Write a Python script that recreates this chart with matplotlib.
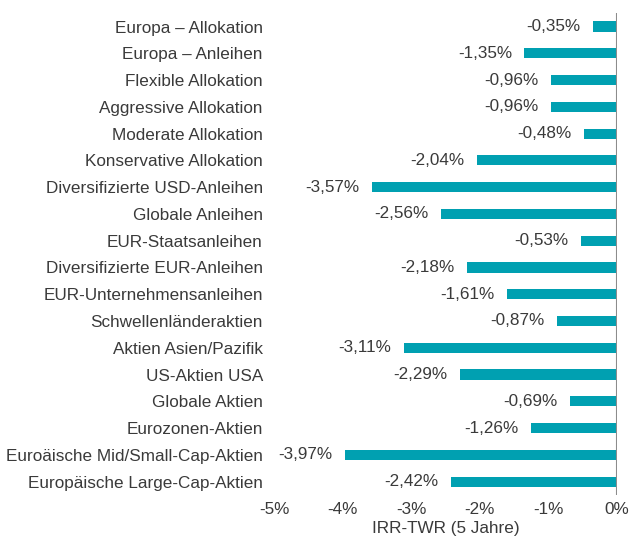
import matplotlib.pyplot as plt

plt.rcParams['font.family'] = ['Liberation Sans', 'DejaVu Sans']

# Kategorien (von oben nach unten) und Werte in %
categories = [
    "Europa – Allokation",
    "Europa – Anleihen",
    "Flexible Allokation",
    "Aggressive Allokation",
    "Moderate Allokation",
    "Konservative Allokation",
    "Diversifizierte USD-Anleihen",
    "Globale Anleihen",
    "EUR-Staatsanleihen",
    "Diversifizierte EUR-Anleihen",
    "EUR-Unternehmensanleihen",
    "Schwellenländeraktien",
    "Aktien Asien/Pazifik",
    "US-Aktien USA",
    "Globale Aktien",
    "Eurozonen-Aktien",
    "Euroäische Mid/Small-Cap-Aktien",
    "Europäische Large-Cap-Aktien",
]
values = [-0.35, -1.35, -0.96, -0.96, -0.48, -2.04, -3.57, -2.56, -0.53,
          -2.18, -1.61, -0.87, -3.11, -2.29, -0.69, -1.26, -3.97, -2.42]
xticks = [-5, -4, -3, -2, -1, 0]

text_color = '#3a3a3a'
bar_color = '#00a0b1'
fs = 12.3

fig = plt.figure(figsize=(6.31, 5.36), dpi=100)
ax = fig.add_axes([0.4342, 0.0765, 0.5436, 0.899])

ypos = list(range(len(categories)))
ax.barh(ypos, values, height=0.38, color=bar_color)

# Wertbeschriftung links neben jedem Balken
for y, v in zip(ypos, values):
    ax.annotate(f"{v:.2f}%".replace('.', ','), xy=(v, y), xytext=(-9, 0),
                textcoords='offset points', ha='right', va='center',
                fontsize=fs, color=text_color)

ax.axvline(0, color='#8c8c8c', lw=1.5)

ax.set_xlim(-5, 0)
ax.set_ylim(len(categories) - 0.5, -0.5)
ax.set_yticks(ypos)
ax.set_yticklabels(categories)
ax.set_xticks(xticks)
ax.set_xticklabels([f"{t}%" for t in xticks])
ax.tick_params(axis='y', length=0, pad=8, labelsize=fs, labelcolor=text_color)
ax.tick_params(axis='x', length=0, pad=5, labelsize=fs, labelcolor=text_color)
ax.set_xlabel("IRR-TWR (5 Jahre)", fontsize=fs, color=text_color, labelpad=3)

for s in ax.spines.values():
    s.set_visible(False)

fig.savefig("out.png", dpi=100)
